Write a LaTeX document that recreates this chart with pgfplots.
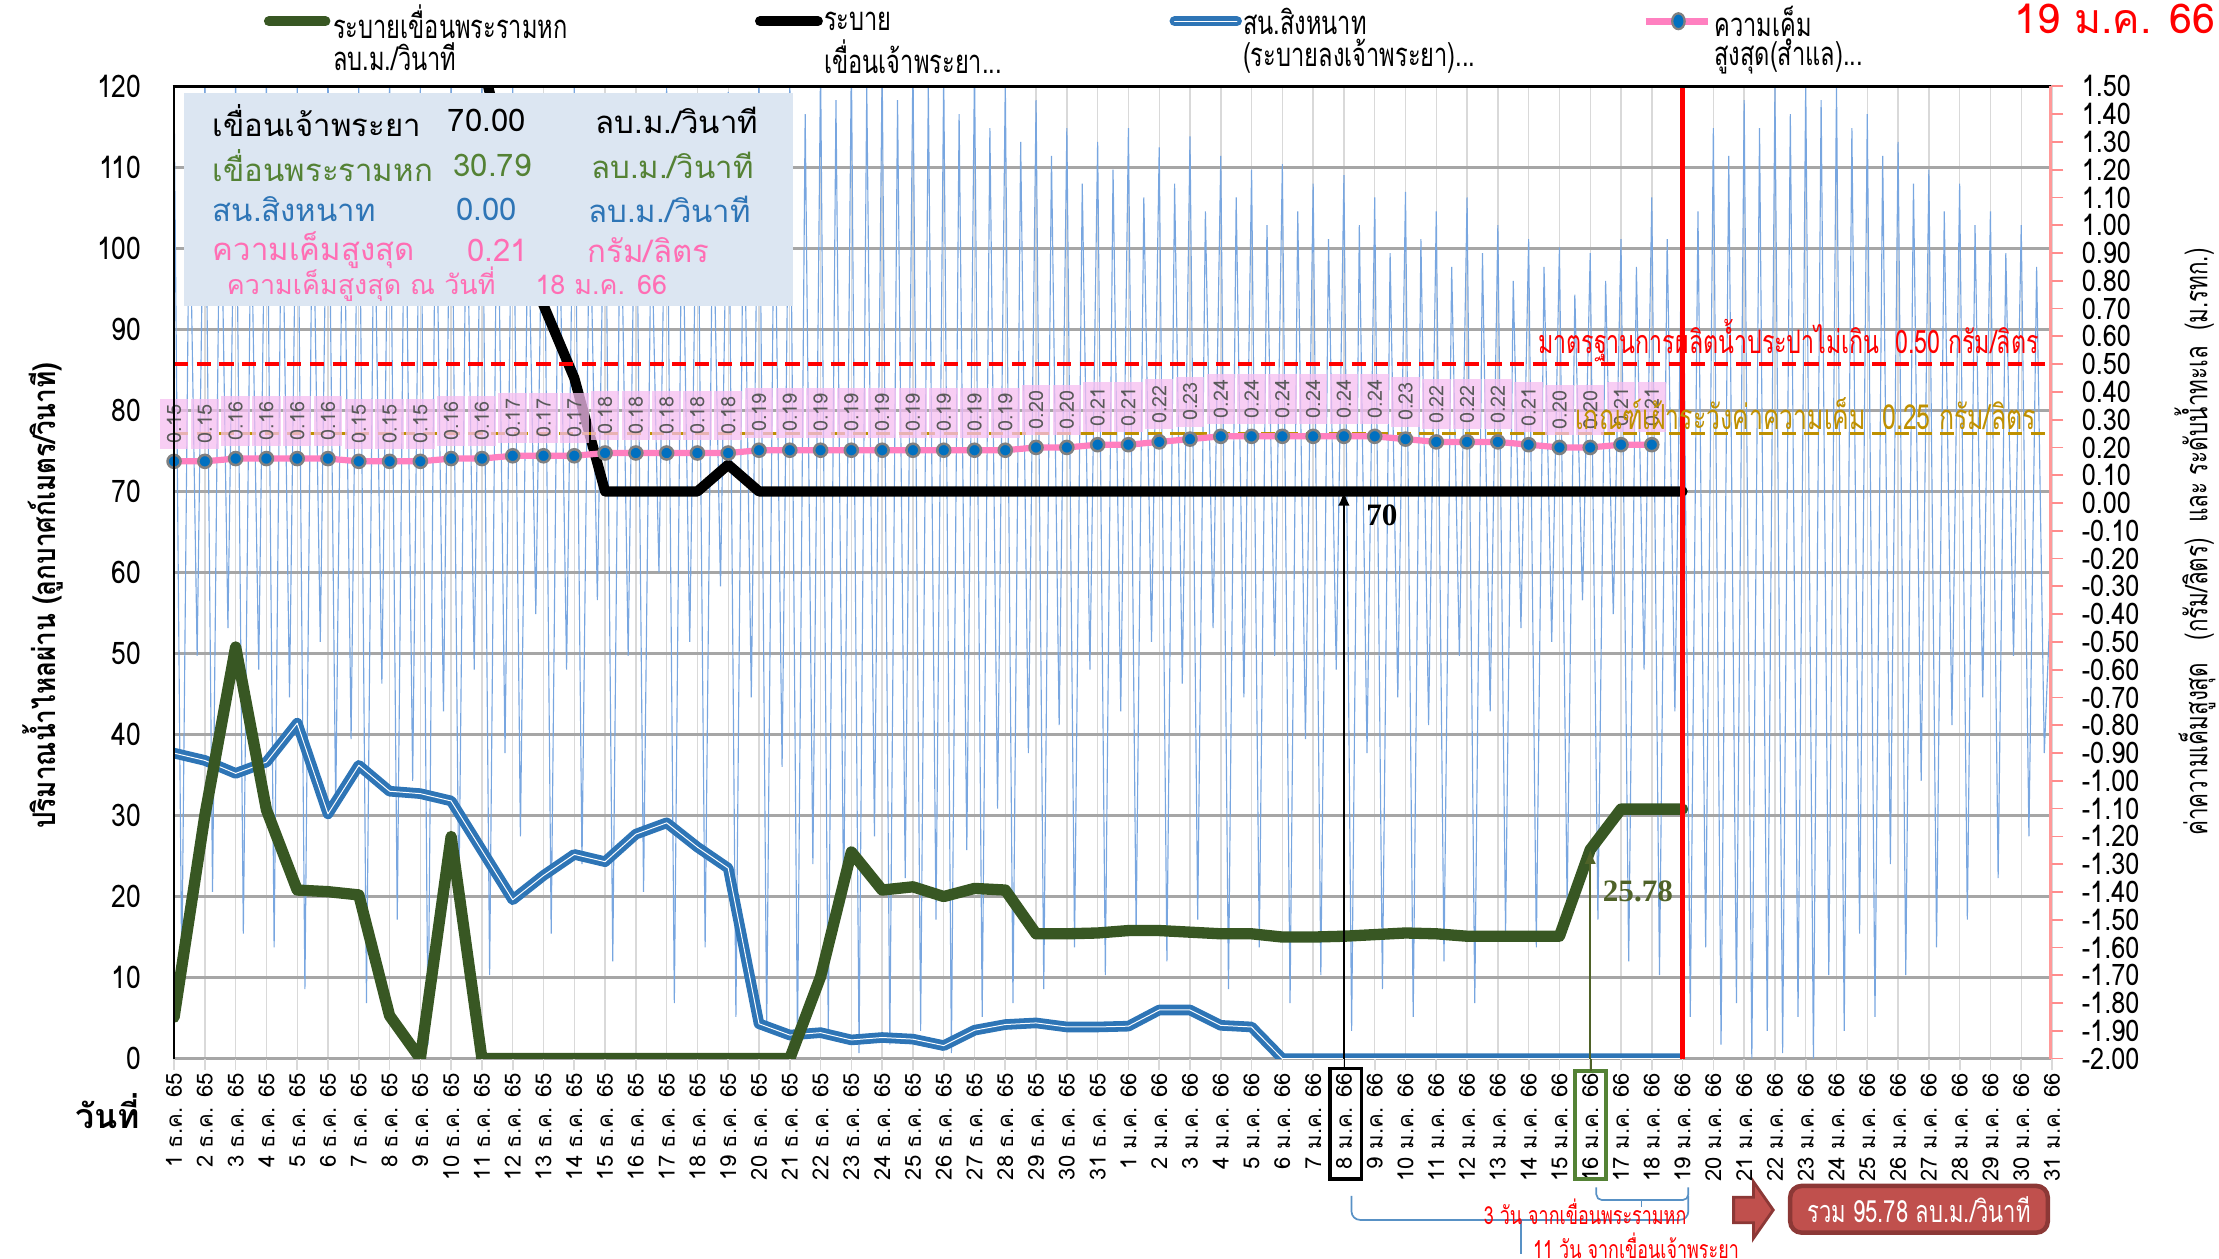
\documentclass[border=0pt]{standalone}
\usepackage{fontspec}
\usepackage{pgfplots}
\usepackage{pgfplotstable}
\pgfplotsset{compat=1.18}
\usetikzlibrary{arrows.meta}
\setmainfont[Script=Thai]{Loma}
\newfontfamily\thcond[Script=Thai,FakeStretch=0.72]{Loma}
\newfontfamily\thmid[Script=Thai,FakeStretch=0.84]{Loma}
\newfontfamily\tickf[FakeStretch=0.85]{Loma}
\newfontfamily\timesf{Liberation Serif}
\definecolor{dgreen}{RGB}{56,87,35}
\definecolor{sblue}{RGB}{46,117,182}
\definecolor{tblue}{RGB}{120,166,224}
\definecolor{spink}{RGB}{255,128,192}
\definecolor{mblue}{RGB}{0,112,192}
\definecolor{gold}{RGB}{191,144,0}
\definecolor{boxblue}{RGB}{220,230,242}
\definecolor{tgreen}{RGB}{84,130,53}
\definecolor{tpink}{RGB}{255,110,180}
\definecolor{olive}{RGB}{79,98,40}
\definecolor{arrred}{RGB}{192,80,77}
\definecolor{arrdark}{RGB}{140,56,54}
\definecolor{gridg}{RGB}{166,166,166}
\definecolor{gridl}{RGB}{217,217,217}
\definecolor{labpink}{RGB}{246,190,240}
\definecolor{labtext}{RGB}{89,89,89}

\pgfplotsset{
  /pgf/number format/assume math mode=true,
  base/.style={scale only axis, width=663.5pt, height=343.5pt,
    at={(61.5pt,-374pt)}, anchor=south west, xmin=1, xmax=62},
}

\pgfplotstableread{
d g
1 5.1
2 30
3 50.8
4 30.7
5 20.8
6 20.6
7 20.2
8 5.3
9 0
10 27.4
11 0
12 0
13 0
14 0
15 0
16 0
17 0
18 0
19 0
20 0
21 0
22 10.1
23 25.5
24 20.8
25 21.2
26 20.0
27 21.0
28 20.8
29 15.4
30 15.4
31 15.5
32 15.8
33 15.8
34 15.6
35 15.4
36 15.4
37 15.0
38 15.0
39 15.1
40 15.3
41 15.5
42 15.4
43 15.1
44 15.1
45 15.1
46 15.1
47 25.78
48 30.79
49 30.79
50 30.79
}\greentab

\pgfplotstableread{
d b
1 37.7
2 36.8
3 35.2
4 36.6
5 41.4
6 30.2
7 36.2
8 33.0
9 32.7
10 31.8
11 25.7
12 19.6
13 22.6
14 25.2
15 24.3
16 27.7
17 29.1
18 26.1
19 23.5
20 4.3
21 2.9
22 3.2
23 2.3
24 2.6
25 2.4
26 1.6
27 3.5
28 4.2
29 4.4
30 3.9
31 3.9
32 4.0
33 6.0
34 6.0
35 4.1
36 3.9
37 0
38 0
39 0
40 0
41 0
42 0
43 0
44 0
45 0
46 0
47 0
48 0
49 0
50 0
}\bluetab

\pgfplotstableread{
d k
9 160
10 140
11 123
12 108
13 93
14 84
15 70
16 70
17 70
18 70
19 73.3
20 70
21 70
22 70
23 70
24 70
25 70
26 70
27 70
28 70
29 70
30 70
31 70
32 70
33 70
34 70
35 70
36 70
37 70
38 70
39 70
40 70
41 70
42 70
43 70
44 70
45 70
46 70
47 70
48 70
49 70
50 70
}\blacktab

\pgfplotstableread{
d s
1 0.15
2 0.15
3 0.16
4 0.16
5 0.16
6 0.16
7 0.15
8 0.15
9 0.15
10 0.16
11 0.16
12 0.17
13 0.17
14 0.17
15 0.18
16 0.18
17 0.18
18 0.18
19 0.18
20 0.19
21 0.19
22 0.19
23 0.19
24 0.19
25 0.19
26 0.19
27 0.19
28 0.19
29 0.20
30 0.20
31 0.21
32 0.21
33 0.22
34 0.23
35 0.24
36 0.24
37 0.24
38 0.24
39 0.24
40 0.24
41 0.23
42 0.22
43 0.22
44 0.22
45 0.21
46 0.20
47 0.20
48 0.21
49 0.21
}\saltab

\begin{document}
\begin{tikzpicture}
\useasboundingbox (0pt,0pt) rectangle (784pt,-444.5pt);

% ---- axis 1: grid, left ticks, x ticks
\begin{axis}[base, ymin=0, ymax=120, ytick={0,10,...,120}, ytick pos=left,
  xtick={1,...,62}, xtick pos=bottom,
  xticklabels={1 ธ.ค. 65,2 ธ.ค. 65,3 ธ.ค. 65,4 ธ.ค. 65,5 ธ.ค. 65,6 ธ.ค. 65,7 ธ.ค. 65,8 ธ.ค. 65,9 ธ.ค. 65,10 ธ.ค. 65,11 ธ.ค. 65,12 ธ.ค. 65,13 ธ.ค. 65,14 ธ.ค. 65,15 ธ.ค. 65,16 ธ.ค. 65,17 ธ.ค. 65,18 ธ.ค. 65,19 ธ.ค. 65,20 ธ.ค. 65,21 ธ.ค. 65,22 ธ.ค. 65,23 ธ.ค. 65,24 ธ.ค. 65,25 ธ.ค. 65,26 ธ.ค. 65,27 ธ.ค. 65,28 ธ.ค. 65,29 ธ.ค. 65,30 ธ.ค. 65,31 ธ.ค. 65,1 ม.ค. 66,2 ม.ค. 66,3 ม.ค. 66,4 ม.ค. 66,5 ม.ค. 66,6 ม.ค. 66,7 ม.ค. 66,8 ม.ค. 66,9 ม.ค. 66,10 ม.ค. 66,11 ม.ค. 66,12 ม.ค. 66,13 ม.ค. 66,14 ม.ค. 66,15 ม.ค. 66,16 ม.ค. 66,17 ม.ค. 66,18 ม.ค. 66,19 ม.ค. 66,20 ม.ค. 66,21 ม.ค. 66,22 ม.ค. 66,23 ม.ค. 66,24 ม.ค. 66,25 ม.ค. 66,26 ม.ค. 66,27 ม.ค. 66,28 ม.ค. 66,29 ม.ค. 66,30 ม.ค. 66,31 ม.ค. 66},
  tick align=outside, major tick length=4pt,
  xtick style={draw=gridl, line width=0.6pt}, ytick style={draw=none},
  xmajorgrids, ymajorgrids,
  x grid style={draw=gridl, line width=0.5pt},
  y grid style={draw=gridg, line width=0.9pt},
  axis line style={draw=none},
  yticklabel style={font=\tickf\fontsize{11}{12}\selectfont, xshift=-4pt},
  xticklabel style={rotate=90, anchor=east, font=\fontsize{7.8}{9}\selectfont, inner sep=1pt, text=black},
]
\addplot[draw=none] coordinates {(1,0)};
\end{axis}

% ---- axis 2: right scale, tide
\begin{axis}[base, ymin=-2, ymax=1.5,
  ytick={-2,-1.9,-1.8,-1.7,-1.6,-1.5,-1.4,-1.3,-1.2,-1.1,-1,-0.9,-0.8,-0.7,-0.6,-0.5,-0.4,-0.3,-0.2,-0.1,0,0.1,0.2,0.3,0.4,0.5,0.6,0.7,0.8,0.9,1,1.1,1.2,1.3,1.4,1.5},
  ytick pos=right, xtick=\empty, axis line style={draw=none},
  tick align=outside, major tick length=4pt,
  ytick style={draw=red!45, line width=0.6pt},
  yticklabel style={font=\tickf\fontsize{10.5}{11}\selectfont, xshift=3pt,
    /pgf/number format/fixed, /pgf/number format/fixed zerofill, /pgf/number format/precision=2},
]
\addplot[tblue, line width=0.4pt] coordinates {
(1,1.48)(1.25,-1.70)(1.5,1.20)(1.75,-0.55)
(2,1.55)(2.25,-1.40)(2.5,1.35)(2.75,-0.45)
(3,1.52)(3.25,-1.55)(3.5,1.10)(3.75,-0.60)
(4,1.55)(4.25,-1.60)(4.5,1.30)(4.75,-0.70)
(5,1.50)(5.25,-1.75)(5.5,1.25)(5.75,-0.50)
(6,1.55)(6.25,-1.10)(6.5,1.35)(6.75,-0.85)
(7,1.52)(7.25,-1.80)(7.5,1.20)(7.75,-0.65)
(8,1.55)(8.25,-1.50)(8.5,1.40)(8.75,-1.00)
(9,1.50)(9.25,-1.95)(9.5,1.30)(9.75,-0.75)
(10,1.55)(10.25,-1.45)(10.5,1.25)(10.75,-0.60)
(11,1.52)(11.25,-1.70)(11.5,1.35)(11.75,-0.90)
(12,1.50)(12.25,-1.20)(12.5,1.10)(12.75,-0.40)
(13,1.45)(13.25,-1.55)(13.5,1.20)(13.75,-0.60)
(14,1.50)(14.25,-1.30)(14.5,1.15)(14.75,-0.35)
(15,1.40)(15.25,-1.65)(15.5,1.25)(15.75,-0.55)
(16,1.45)(16.25,-1.40)(16.5,1.05)(16.75,-0.25)
(17,1.50)(17.25,-1.80)(17.5,1.20)(17.75,-0.50)
(18,1.42)(18.25,-1.60)(18.5,1.15)(18.75,-0.30)
(19,1.48)(19.25,-1.85)(19.5,1.25)(19.75,-0.70)
(20,1.55)(20.25,-1.90)(20.5,1.30)(20.75,-0.95)
(21,1.55)(21.25,-1.95)(21.5,1.40)(21.75,-1.30)
(22,1.58)(22.25,-1.90)(22.5,1.45)(22.75,-1.45)
(23,1.60)(23.25,-1.98)(23.5,1.50)(23.75,-1.20)
(24,1.58)(24.25,-1.95)(24.5,1.45)(24.75,-1.35)
(25,1.60)(25.25,-1.90)(25.5,1.50)(25.75,-1.50)
(26,1.55)(26.25,-1.98)(26.5,1.40)(26.75,-1.25)
(27,1.58)(27.25,-1.85)(27.5,1.35)(27.75,-1.10)
(28,1.52)(28.25,-1.80)(28.5,1.30)(28.75,-0.90)
(29,1.45)(29.25,-1.75)(29.5,1.25)(29.75,-0.80)
(30,1.35)(30.25,-1.60)(30.5,1.15)(30.75,-0.60)
(31,1.30)(31.25,-1.70)(31.5,1.20)(31.75,-0.75)
(32,1.35)(32.25,-1.55)(32.5,1.10)(32.75,-0.50)
(33,1.28)(33.25,-1.65)(33.5,1.15)(33.75,-0.65)
(34,1.32)(34.25,-1.50)(34.5,1.05)(34.75,-0.45)
(35,1.25)(35.25,-1.75)(35.5,1.10)(35.75,-0.70)
(36,1.20)(36.25,-1.60)(36.5,1.00)(36.75,-0.55)
(37,1.22)(37.25,-1.80)(37.5,1.05)(37.75,-0.85)
(38,1.15)(38.25,-1.70)(38.5,0.95)(38.75,-0.60)
(39,1.18)(39.25,-1.90)(39.5,1.00)(39.75,-0.90)
(40,1.10)(40.25,-1.75)(40.5,0.90)(40.75,-0.70)
(41,1.12)(41.25,-1.85)(41.5,0.95)(41.75,-0.80)
(42,1.05)(42.25,-1.65)(42.5,0.85)(42.75,-0.55)
(43,1.10)(43.25,-1.80)(43.5,0.90)(43.75,-0.75)
(44,1.00)(44.25,-1.55)(44.5,0.80)(44.75,-0.45)
(45,0.95)(45.25,-1.60)(45.5,0.85)(45.75,-0.50)
(46,0.92)(46.25,-1.45)(46.5,0.75)(46.75,-0.35)
(47,0.90)(47.25,-1.50)(47.5,0.80)(47.75,-0.40)
(48,0.95)(48.25,-1.65)(48.5,0.85)(48.75,-0.60)
(49,1.10)(49.25,-1.70)(49.5,0.95)(49.75,-0.75)
(50,1.20)(50.25,-1.85)(50.5,1.05)(50.75,-1.60)
(51,1.35)(51.25,-1.95)(51.5,1.25)(51.75,-1.80)
(52,1.45)(52.25,-2.00)(52.5,1.35)(52.75,-1.90)
(53,1.50)(53.25,-1.98)(53.5,1.40)(53.75,-1.85)
(54,1.52)(54.25,-2.00)(54.5,1.45)(54.75,-1.70)
(55,1.50)(55.25,-1.90)(55.5,1.35)(55.75,-1.55)
(56,1.40)(56.25,-1.85)(56.5,1.25)(56.75,-1.30)
(57,1.30)(57.25,-1.70)(57.5,1.15)(57.75,-1.00)
(58,1.20)(58.25,-1.60)(58.5,1.05)(58.75,-0.80)
(59,1.15)(59.25,-1.50)(59.5,1.00)(59.75,-0.70)
(60,1.05)(60.25,-1.35)(60.5,0.90)(60.75,-0.55)
(61,1.00)(61.25,-1.20)(61.5,0.85)(61.75,-0.90)
(61.95,-0.35)
};
\end{axis}

% ---- axis 3: main flow lines
\begin{axis}[base, ymin=0, ymax=120, hide axis]
\addplot[sblue, line width=1.7pt, double=white, double distance=0.35pt, line join=round] table[x=d,y=b] \bluetab;
\addplot[dgreen, line width=4pt, line join=round, line cap=round] table[x=d,y=g] \greentab;
\addplot[black, line width=3.6pt, line join=round, line cap=round] table[x=d,y=k] \blacktab;
\draw[-{Latex[length=5pt,width=4pt]}, black, line width=0.6pt] (39,0) -- (39,70);
\node[anchor=west, font=\timesf\bfseries\fontsize{11}{12}\selectfont] at (39.4,67) {70};
\draw[-{Latex[length=5pt,width=4pt]}, olive, line width=0.6pt] (47,0) -- (47,25.78);
\node[font=\timesf\bfseries\fontsize{11}{12}\selectfont, text=olive] at (48.55,20.6) {25.78};
\end{axis}

% ---- axis 4: salinity, thresholds
\begin{axis}[base, ymin=-2, ymax=1.5, hide axis]
\addplot[red, line width=1.3pt, dash pattern=on 5pt off 3pt] coordinates {(1,0.5) (62,0.5)};
\addplot[gold, line width=1.3pt, dash pattern=on 5pt off 3pt] coordinates {(1,0.25) (62,0.25)};
\draw[red, line width=1.6pt] (50,-2) -- (50,1.5);
\addplot[spink, line width=2.2pt, mark=*, mark size=2.3pt,
  mark options={fill=mblue, draw=gray, line width=0.9pt},
  nodes near coords={\pgfmathprintnumber[fixed,fixed zerofill,precision=2]{\pgfplotspointmeta}},
  every node near coord/.append style={yshift=4pt, rotate=90, anchor=west,
    font=\fontsize{7}{8}\selectfont, text=labtext, fill=labpink, fill opacity=0.75,
    text opacity=1, inner xsep=2pt, inner ysep=2.5pt}
] table[x=d,y=s] \saltab;
\end{axis}

\begin{scope}[x=0.5pt,y=-0.5pt]
% frame lines
\draw[black, line width=1pt] (122,61) -- (1449,61);
\draw[black, line width=0.9pt] (123,61) -- (123,748);
\draw[red!40, line width=0.8pt] (1449,61) -- (1449,748);

% info box
\fill[boxblue] (130,66) rectangle (560,216);
\begin{scope}[every node/.style={inner sep=0pt, font=\fontsize{11}{13}\selectfont}]
\node[anchor=west] at (150,85) {เขื่อนเจ้าพระยา};
\node[anchor=west] at (316,85) {70.00};
\node[anchor=east] at (536,85) {ลบ.ม./วินาที};
\node[anchor=west, text=tgreen] at (150,117) {เขื่อนพระรามหก};
\node[anchor=west, text=tgreen] at (320,117) {30.79};
\node[anchor=east, text=tgreen] at (533,117) {ลบ.ม./วินาที};
\node[anchor=west, text=sblue] at (150,148) {สน.สิงหนาท};
\node[anchor=west, text=sblue] at (322,148) {0.00};
\node[anchor=east, text=sblue] at (531,148) {ลบ.ม./วินาที};
\node[anchor=west, text=tpink] at (150,177) {ความเค็มสูงสุด};
\node[anchor=west, text=tpink] at (330,177) {0.21};
\node[anchor=west, text=tpink] at (415,177) {กรัม/ลิตร};
\node[anchor=west, text=tpink, font=\fontsize{9.5}{11}\selectfont] at (160,201) {ความเค็มสูงสุด ณ วันที่};
\node[anchor=west, text=tpink, font=\fontsize{9.5}{11}\selectfont] at (378,201) {18 ม.ค. 66};
\end{scope}

% legend
\begin{scope}[every node/.style={inner sep=0pt, anchor=west, font=\thcond\fontsize{11.6}{13}\selectfont}]
\draw[dgreen, line width=3.5pt, line cap=round] (190,15) -- (230,15);
\node at (235,15) {ระบายเขื่อนพระรามหก};
\node at (235,40) {ลบ.ม./วินาที};
\draw[black, line width=3.5pt, line cap=round] (537,15) -- (578,15);
\node at (582,15) {ระบาย};
\node at (582,40) {เขื่อนเจ้าพระยา...};
\draw[sblue, line width=1.6pt, double=white, double distance=0.4pt, line cap=round] (830,15) -- (874,15);
\node at (878,15) {สน.สิงหนาท};
\node at (878,40) {(ระบายลงเจ้าพระยา)...};
\draw[spink, line width=2.4pt] (1163,15) -- (1207,15);
\filldraw[fill=mblue, draw=gray, line width=0.8pt] (1186,15) ellipse (2.2pt and 2.8pt);
\node at (1211,15) {ความเค็ม};
\node at (1211,40) {สูงสุด(สำแล)...};
\end{scope}

\node[anchor=east, text=red, inner sep=0pt, font=\fontsize{14.5}{16}\selectfont] at (1566,13) {19 ม.ค. 66};

% axis titles
\node[rotate=90, font=\thmid\bfseries\fontsize{11}{12}\selectfont] at (30,421) {ปริมาณน้ำไหลผ่าน (ลูกบาศก์เมตร/วินาที)};
\node[font=\bfseries\fontsize{12}{13}\selectfont] at (76,785) {วันที่};
\node[rotate=90, font=\thcond\fontsize{11}{12}\selectfont] at (1551,383) {ค่าความเค็มสูงสุด\ \ \ (กรัม/ลิตร)\ \ และ ระดับน้ำทะเล\ \ (ม.รทก.)};

% threshold texts
\node[anchor=east, text=red, inner sep=0pt, font=\thcond\fontsize{11.4}{13}\selectfont] at (1441,241) {มาตรฐานการผลิตน้ำประปาไม่เกิน\ \ 0.50 กรัม/ลิตร};
\node[anchor=east, text=gold, inner sep=0pt, font=\thcond\fontsize{12.2}{13}\selectfont] at (1439,292) {เกณฑ์เฝ้าระวังค่าความเค็ม\ \ 0.25 กรัม/ลิตร};

% boxes around tick labels
\draw[black, line width=1.3pt] (940,755) rectangle (962,833);
\draw[tgreen, line width=1.3pt] (1113,757) rectangle (1135,833);
\draw[black, line width=0.6pt] (950,748) -- (950,755);
\draw[olive, line width=0.6pt] (1124,748) -- (1124,757);

% braces
\draw[sblue!80, line width=0.6pt, rounded corners=3pt] (955,845) -- (955,862) -- (1193,862) -- (1193,845);
\draw[sblue!80, line width=0.6pt] (1075,862) -- (1075,886);
\draw[sblue!80, line width=0.6pt, rounded corners=2pt] (1128,839) -- (1128,848) -- (1193,848) -- (1193,839);
\draw[sblue!80, line width=0.6pt] (1160,848) -- (1160,853);
\node[anchor=east, text=red, inner sep=0pt, font=\thcond\fontsize{8.8}{10}\selectfont] at (1192,856) {3 วัน จากเขื่อนพระรามหก};
\node[anchor=west, text=red, inner sep=0pt, font=\thcond\fontsize{8.8}{10}\selectfont] at (1083,880) {11 วัน จากเขื่อนเจ้าพระยา};

% block arrow and total box
\filldraw[fill=arrred, draw=arrdark, line width=1pt] (1225,846) -- (1239,846) -- (1239,835) -- (1253,855) -- (1239,875) -- (1239,864) -- (1225,864) -- cycle;
\filldraw[fill=arrred, draw=arrdark, line width=1.6pt, rounded corners=4pt] (1265,838) rectangle (1447,871);
\node[text=white, font=\thcond\fontsize{10.8}{12}\selectfont] at (1356,855) {รวม 95.78 ลบ.ม./วินาที};
\end{scope}
\end{tikzpicture}
\end{document}
